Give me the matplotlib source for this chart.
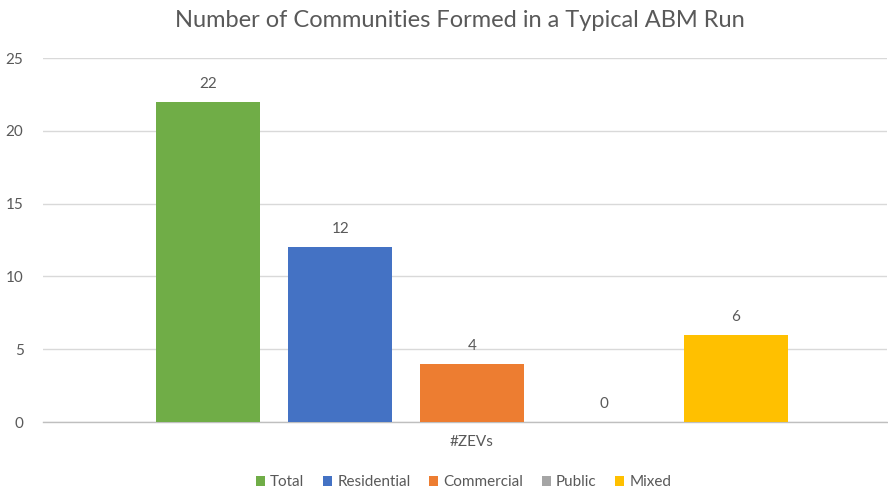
import matplotlib

matplotlib.use("Agg")
import matplotlib.pyplot as plt
from matplotlib.patches import Patch

plt.rcParams["font.family"] = ["Lato", "DejaVu Sans"]

category = "#ZEVs"
series = ["Total", "Residential", "Commercial", "Public", "Mixed"]
values = [22, 12, 4, 0, 6]
colors = ["#70AD47", "#4472C4", "#ED7D31", "#A5A5A5", "#FFC000"]
yticks = [0, 5, 10, 15, 20, 25]

text_col = "#595959"
grid_col = "#D9D9D9"

fig = plt.figure(figsize=(8.88, 4.93), dpi=100)
ax = fig.add_axes([0.0484, 0.144, 0.95, 0.738])

# one category, five series side by side
step = 1.0
width = 0.79
offsets = [(i - (len(series) - 1) / 2) * step for i in range(len(series))]
for off, v, c, name in zip(offsets, values, colors, series):
    ax.bar(off, v, width=width, color=c, label=name, zorder=3)
    ax.text(off, v + 0.75, f"{v}", ha="center", va="bottom",
            fontsize=11, color=text_col)

ax.set_xlim(-3.255, 3.145)
ax.set_ylim(0, 25)
ax.set_yticks(yticks)
ax.set_xticks([0])
ax.set_xticklabels([category])
ax.tick_params(axis="both", length=0, labelsize=11, labelcolor=text_col)
ax.tick_params(axis="y", pad=14)
ax.tick_params(axis="x", pad=9)

ax.grid(axis="y", color=grid_col, linewidth=1.0, zorder=0)
for side in ["top", "right", "left"]:
    ax.spines[side].set_visible(False)
ax.spines["bottom"].set_color("#BFBFBF")
ax.spines["bottom"].set_linewidth(1.0)

fig.suptitle("Number of Communities Formed in a Typical ABM Run",
             x=0.518, y=0.98, fontsize=17, color=text_col)

handles = [Patch(facecolor=c, label=n) for n, c in zip(series, colors)]
fig.legend(handles=handles, loc="center", bbox_to_anchor=(0.522, 0.022),
           ncol=5, frameon=False, fontsize=11, handlelength=0.6,
           handleheight=0.6, handletextpad=0.35, columnspacing=1.2,
           labelcolor=text_col)

fig.savefig("out.png", dpi=100)
